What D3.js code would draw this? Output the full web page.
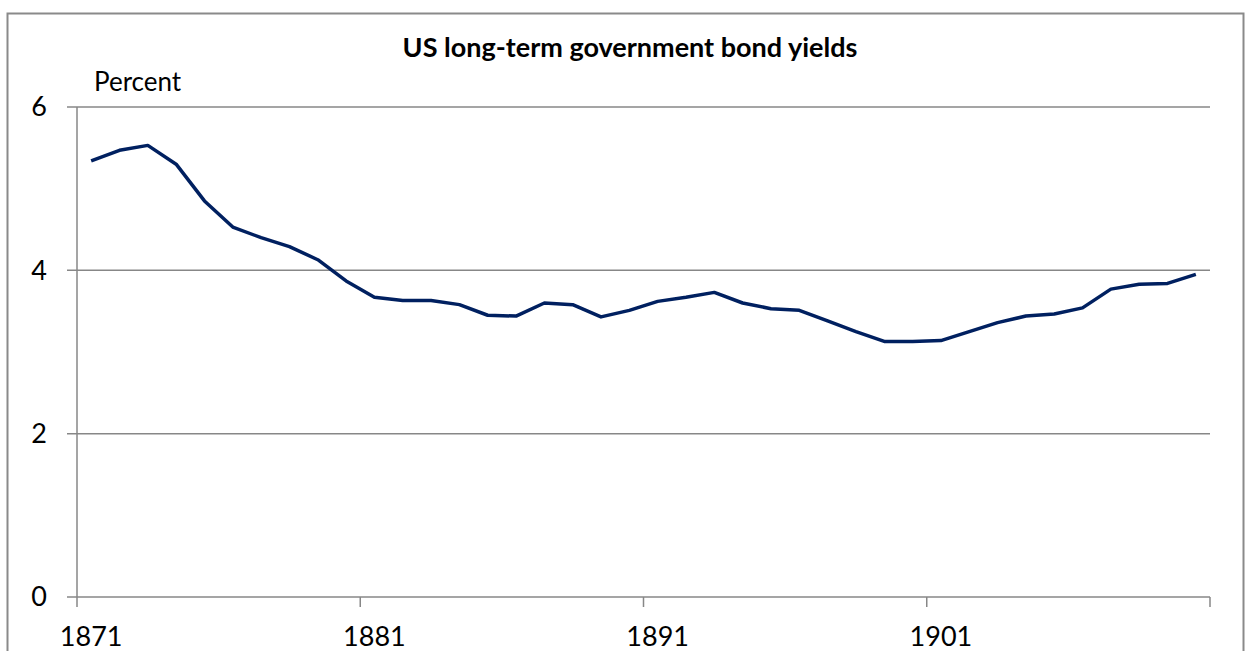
<!DOCTYPE html>
<html>
<head>
<meta charset="utf-8">
<script src="https://cdn.jsdelivr.net/npm/d3@7/dist/d3.min.js"></script>
<style>
  body { margin: 0; background: #fff; }
  text { font-family: Lato, "Open Sans", sans-serif; fill: #000; }
</style>
</head>
<body>
<div id="chart"></div>
<script>
var width = 1245;
var height = 651;

// data
var years = d3.range(1871, 1911);
var yields = [
  5.34, 5.47, 5.53, 5.30, 4.85, 4.53, 4.40, 4.29, 4.13, 3.87,
  3.67, 3.63, 3.63, 3.58, 3.45, 3.44, 3.60, 3.58, 3.43, 3.51,
  3.62, 3.67, 3.73, 3.60, 3.53, 3.51, 3.38, 3.25, 3.13, 3.13,
  3.14, 3.25, 3.36, 3.44, 3.465, 3.54, 3.77, 3.83, 3.84, 3.95
];
var yTicks = [0, 2, 4, 6];
var labelYears = [1871, 1881, 1891, 1901];

var plotLeft = 77, plotRight = 1210, plotTop = 107, plotBottom = 597;
var axisColor = '#878787';

var svg = d3.select('#chart')
    .append('svg')
    .attr('width', width)
    .attr('height', height);

// chart frame
svg.append('rect')
    .attr('x', 7.5)
    .attr('y', 13.5)
    .attr('width', 1236)
    .attr('height', 700)
    .attr('fill', 'none')
    .attr('stroke', '#8a8a8a')
    .attr('stroke-width', 2);

var x = d3.scaleBand()
    .domain(years)
    .range([plotLeft, plotRight])
    .padding(0);

var y = d3.scaleLinear()
    .domain([0, 6])
    .range([plotBottom, plotTop]);

// gridlines (with the little tick stub left of the axis)
svg.selectAll('.grid')
    .data(yTicks)
    .enter()
    .append('line')
    .attr('class', 'grid')
    .attr('x1', plotLeft - 10)
    .attr('x2', plotRight)
    .attr('y1', function(d) { return y(d); })
    .attr('y2', function(d) { return y(d); })
    .attr('stroke', axisColor)
    .attr('stroke-width', 1.5);

// y axis line
svg.append('line')
    .attr('x1', plotLeft).attr('x2', plotLeft)
    .attr('y1', y(6)).attr('y2', y(0))
    .attr('stroke', axisColor)
    .attr('stroke-width', 1.5);

// y labels
svg.selectAll('.ylab')
    .data(yTicks)
    .enter()
    .append('text')
    .attr('class', 'ylab')
    .attr('x', 39)
    .attr('y', function(d) { return y(d); })
    .attr('dy', '0.35em')
    .attr('text-anchor', 'middle')
    .style('font-size', '27px')
    .text(function(d) { return d; });

// x ticks at category boundaries, every 10 years, plus the end
var tickX = labelYears.map(function(d) { return x(d); }).concat([plotRight]);
svg.selectAll('.xtick')
    .data(tickX)
    .enter()
    .append('line')
    .attr('class', 'xtick')
    .attr('x1', function(d) { return d; })
    .attr('x2', function(d) { return d; })
    .attr('y1', plotBottom)
    .attr('y2', plotBottom + 10)
    .attr('stroke', axisColor)
    .attr('stroke-width', 1.5);

// x labels centred on category
svg.selectAll('.xlab')
    .data(labelYears)
    .enter()
    .append('text')
    .attr('class', 'xlab')
    .attr('x', function(d) { return x(d) + x.bandwidth() / 2; })
    .attr('y', 637)
    .attr('dy', '0.35em')
    .attr('text-anchor', 'middle')
    .style('font-size', '27px')
    .text(function(d) { return d; });

// the line
var line = d3.line()
    .x(function(d, i) { return x(years[i]) + x.bandwidth() / 2; })
    .y(function(d) { return y(d); });

svg.append('path')
    .datum(yields)
    .attr('d', line)
    .attr('fill', 'none')
    .attr('stroke', '#002060')
    .attr('stroke-width', 3.5)
    .attr('stroke-linejoin', 'round');

// title and unit
svg.append('text')
    .attr('x', 630)
    .attr('y', 48)
    .attr('dy', '0.35em')
    .attr('text-anchor', 'middle')
    .style('font-size', '27px')
    .style('font-weight', 'bold')
    .text('US long-term government bond yields');

svg.append('text')
    .attr('x', 94)
    .attr('y', 82)
    .attr('dy', '0.35em')
    .style('font-size', '26px')
    .text('Percent');
</script>
</body>
</html>
